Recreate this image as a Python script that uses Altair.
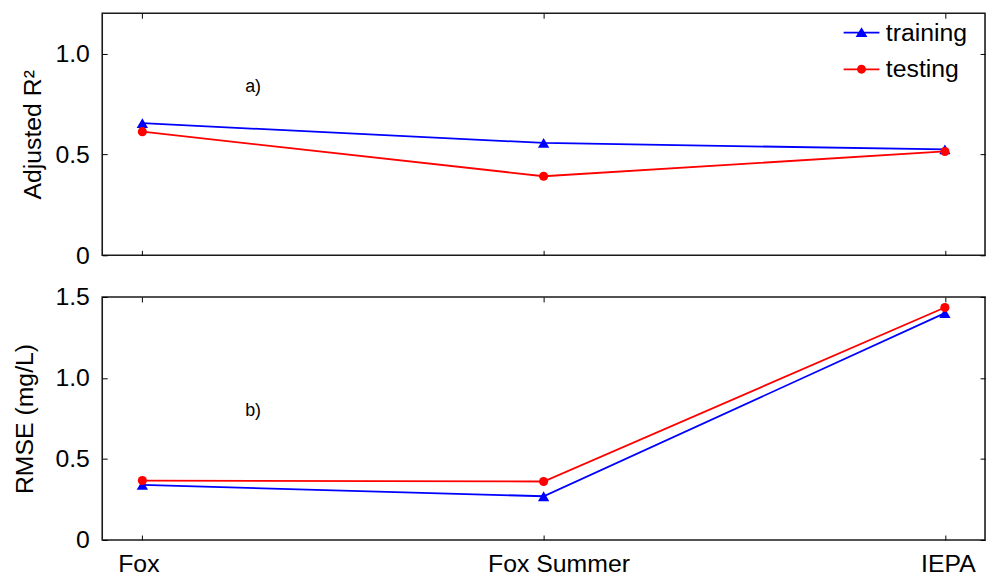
import json
import altair as alt
import pandas as pd

# ---- data ----
categories = ["Fox", "Fox Summer", "IEPA"]
series_names = ["training", "testing"]
series_colors = ["#0000ff", "#ff0000"]
r2_training = [0.655, 0.557, 0.525]
r2_testing = [0.613, 0.392, 0.515]
rmse_training = [0.34, 0.27, 1.40]
rmse_testing = [0.367, 0.361, 1.435]
r2_ticks = [0, 0.5, 1.0]
rmse_ticks = [0, 0.5, 1.0, 1.5]
panel_labels = ["a)", "b)"]

FONT = "Liberation Sans"


def frame(train, test):
    rows = []
    for i, c in enumerate(categories):
        rows.append({"idx": i, "site": c, "series": "training", "value": train[i]})
        rows.append({"idx": i, "site": c, "series": "testing", "value": test[i]})
    return pd.DataFrame(rows)


label_expr = json.dumps(categories) + "[datum.value]"
x_index = list(range(len(categories)))
xscale = alt.Scale(domain=[-0.1, 2.1], nice=False, zero=False)

# legend glyphs: a thin filled bar (the line) plus the marker
TRI_PATH = "M-1,-0.05H1V0.05H-1Z M0,-0.3L0.33,0.25H-0.33Z"
DOT_PATH = "M-1,-0.05H1V0.05H-1Z M0.25,0A0.25,0.25 0 1 1 -0.25,0A0.25,0.25 0 1 1 0.25,0Z"


def tick_axis(orient, values):
    return alt.Axis(orient=orient, offset=-5, tickSize=5, values=values,
                    labels=False, domain=False, grid=False, title=None,
                    tickColor="black", tickWidth=1)


def panel(df, ydomain, yticks, ytitle, title_pad, show_x_labels, annot, annot_xy,
          with_legend, height):
    yscale = alt.Scale(domain=ydomain, nice=False, zero=False)
    y_fmt = "datum.value == 0 ? '0' : format(datum.value, '.1f')"
    if show_x_labels:
        x_main_axis = alt.Axis(values=x_index, labelExpr=label_expr, ticks=False, tickSize=0,
                               domain=False, grid=False, labelFontSize=25,
                               labelColor="black", labelPadding=12, title=None,
                               labelFont=FONT, labelAngle=0,
                               labelOffset={"condition": [
                                   {"test": "datum.value == 0", "value": -4},
                                   {"test": "datum.value == 1", "value": 15}],
                                   "value": 3})
    else:
        x_main_axis = None
    y_main_axis = alt.Axis(values=yticks, labelExpr=y_fmt, ticks=False, tickSize=0,
                           domain=False, grid=False, labelFontSize=25,
                           labelColor="black", labelPadding=13, title=ytitle,
                           titleFontSize=25, titleFontWeight="normal",
                           titleColor="black", titlePadding=title_pad,
                           titleFont=FONT, labelFont=FONT)
    base = alt.Chart(df)
    x_plain = alt.X("idx:Q", scale=xscale, axis=None)
    y_plain = alt.Y("value:Q", scale=yscale, axis=None)
    train = base.transform_filter(alt.datum.series == series_names[0])
    test = base.transform_filter(alt.datum.series == series_names[1])

    line_train = train.mark_line(strokeWidth=1.8, color=series_colors[0]).encode(
        x=alt.X("idx:Q", scale=xscale, axis=x_main_axis),
        y=alt.Y("value:Q", scale=yscale, axis=y_main_axis),
    )
    line_test = test.mark_line(strokeWidth=1.8, color=series_colors[1]).encode(
        x=x_plain, y=y_plain)
    tri = train.mark_point(shape="triangle-up", filled=True, size=130, opacity=1,
                           color=series_colors[0]).encode(x=x_plain, y=y_plain)
    dots = test.mark_circle(size=85, opacity=1, color=series_colors[1]).encode(
        x=x_plain, y=y_plain)
    ticks_a = base.transform_filter("false").mark_point().encode(
        x=alt.X("idx:Q", scale=xscale, axis=tick_axis("bottom", x_index)),
        y=alt.Y("value:Q", scale=yscale, axis=tick_axis("left", yticks)),
    )
    ticks_b = base.transform_filter("false").mark_point().encode(
        x=alt.X("idx:Q", scale=xscale, axis=tick_axis("top", x_index)),
        y=alt.Y("value:Q", scale=yscale, axis=tick_axis("right", yticks)),
    )
    text = alt.Chart(pd.DataFrame({"x": [annot_xy[0]], "y": [annot_xy[1]], "t": [annot]})).mark_text(
        fontSize=18, font=FONT, color="black", align="center", baseline="middle"
    ).encode(
        x=alt.X("x:Q", scale=xscale, axis=None),
        y=alt.Y("y:Q", scale=yscale, axis=None),
        text="t:N",
    )
    layers = [line_train, line_test, tri, dots, ticks_a, ticks_b, text]
    if with_legend:
        leg_def = alt.Legend(orient="none", legendX=747, legendY=1, title=None,
                             symbolSize=1300, symbolStrokeWidth=0,
                             labelFontSize=25, labelFont=FONT, labelColor="black",
                             labelOffset=6, rowPadding=5, padding=0)
        # legend-only layer: its marks sit below the plot and are clipped away
        leg = base.transform_calculate(hidden="-10").mark_point(
            filled=True, clip=True, opacity=1
        ).encode(
            x=x_plain,
            y=alt.Y("hidden:Q", scale=yscale, axis=None),
            color=alt.Color("series:N",
                            scale=alt.Scale(domain=series_names, range=series_colors),
                            legend=leg_def),
            shape=alt.Shape("series:N",
                            scale=alt.Scale(domain=series_names, range=[TRI_PATH, DOT_PATH]),
                            legend=leg_def),
        )
        layers.append(leg)
    return alt.layer(*layers).resolve_axis(x="independent", y="independent").properties(
        width=890, height=height
    )


top = panel(frame(r2_training, r2_testing), [0, 1.2], r2_ticks, "Adjusted R²", 9, False,
            panel_labels[0], (0.276, 0.833), True, 244)
bottom = panel(frame(rmse_training, rmse_testing), [0, 1.5], rmse_ticks, "RMSE (mg/L)", 18, True,
               panel_labels[1], (0.276, 0.796), False, 245)

chart = alt.vconcat(top, bottom, spacing=42, bounds="flush").properties(
    padding={"left": 3, "top": 1, "right": 0, "bottom": 0}
).configure(font=FONT).configure_view(stroke="#1a1a1a", strokeWidth=1.6)

chart.save("out.html", embed_options={"renderer": "svg", "actions": False})
